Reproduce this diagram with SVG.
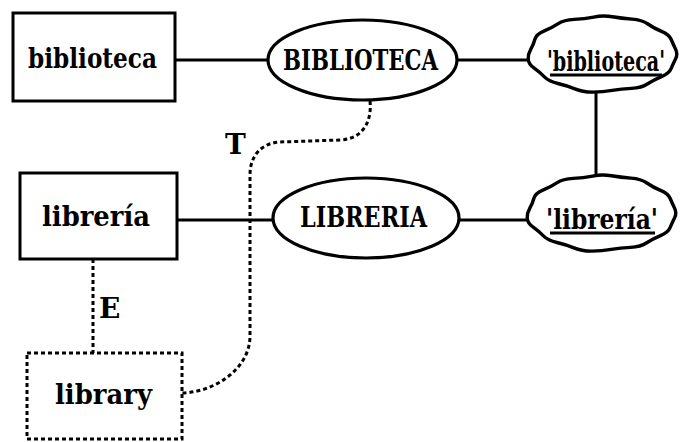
<svg xmlns="http://www.w3.org/2000/svg" width="680" height="442" viewBox="0 0 680 442">
<style>
.box{fill:#fff;stroke:#000;stroke-width:3}
.dbox{fill:#fff;stroke:#000;stroke-width:3;stroke-dasharray:4 3}
.ell{fill:#fff;stroke:#000;stroke-width:3.2}
.cloud{fill:#fff;stroke:#000;stroke-width:3.4;stroke-linejoin:round}
.ln{fill:none;stroke:#000;stroke-width:3}
.dl{fill:none;stroke:#000;stroke-width:3;stroke-dasharray:4 3}
.t{font-family:"DejaVu Serif","Liberation Serif",serif;font-weight:bold;font-size:28px;fill:#000}
.lbl{font-family:"DejaVu Serif","Liberation Serif",serif;font-weight:bold;font-size:28px;fill:#000}
.ul{stroke:#000;stroke-width:3}
</style>
<defs>
<path id="cloudShape" d="M675.6,49.2 Q678,54 675.6,58.8 Q673.3,63.5 671.2,68.4 Q669.2,73.4 661.5,76.6 Q653.9,79.8 647.7,83.8 Q641.6,87.9 631.5,88.4 Q621.5,88.9 612.2,90.4 Q603,92 592.9,92.1 Q582.8,92.2 574.9,88.9 Q567,85.6 557.9,83.5 Q548.9,81.4 544.4,76.9 Q540,72.4 534.2,68.2 Q528.4,64.1 528.2,59 Q528,54 530.7,49.3 Q533.5,44.6 534.8,39.5 Q536.1,34.4 543.8,31.1 Q551.6,27.9 557.8,23.8 Q564,19.8 574.2,19.4 Q584.5,19.1 593.7,17.1 Q603,15.2 612.4,16.8 Q621.8,18.4 631.9,19.1 Q642,19.8 647.9,24 Q653.9,28.2 661.5,31.4 Q669.2,34.6 671.2,39.5 Q673.3,44.5 675.6,49.2 Z"/>
</defs>

<g id="connectors">
  <line class="ln" x1="175" y1="60" x2="268" y2="60"/>
  <line class="ln" x1="457" y1="60" x2="529" y2="60"/>
  <line class="ln" x1="596" y1="91" x2="596" y2="175"/>
  <line class="ln" x1="177" y1="220" x2="273" y2="220"/>
  <line class="ln" x1="459" y1="220" x2="528" y2="220"/>
  <line class="dl" x1="93" y1="259" x2="93" y2="353"/>
  <path class="dl" d="M370,101 C372,120 364,139 340,140 L280,142 C262,143 250,155 250,175 L250,336 C250,368 216,392 182,393"/>
  <text class="lbl" x="225" y="154">T</text>
  <text class="lbl" x="99" y="318">E</text>
</g>

<g id="n-biblioteca">
  <rect class="box" x="13" y="13" width="162" height="88"/>
  <text class="t" x="28" y="68" textLength="129" lengthAdjust="spacingAndGlyphs">biblioteca</text>
</g>

<g id="n-BIBLIOTECA">
  <ellipse class="ell" cx="362.5" cy="60" rx="94.5" ry="40"/>
  <text class="t" x="283" y="70" textLength="155" lengthAdjust="spacingAndGlyphs">BIBLIOTECA</text>
</g>

<g id="n-biblioteca-concept">
  <use href="#cloudShape" class="cloud"/>
  <text class="t" transform="translate(547,71) scale(0.7,1)" x="0" y="0" textLength="168.6" lengthAdjust="spacingAndGlyphs">'biblioteca'</text>
  <line class="ul" x1="550" y1="75" x2="662" y2="75"/>
</g>

<g id="n-libreria">
  <rect class="box" x="20" y="173" width="157" height="86"/>
  <text class="t" x="42" y="226" textLength="108" lengthAdjust="spacingAndGlyphs">librería</text>
</g>

<g id="n-LIBRERIA">
  <ellipse class="ell" cx="366" cy="218" rx="93" ry="40"/>
  <text class="t" x="300" y="227" textLength="127" lengthAdjust="spacingAndGlyphs">LIBRERIA</text>
</g>

<g id="n-libreria-concept">
  <use href="#cloudShape" class="cloud" transform="translate(-1,159)"/>
  <text class="t" x="546" y="229" textLength="112" lengthAdjust="spacingAndGlyphs">'librería'</text>
  <line class="ul" x1="550" y1="233" x2="655" y2="233"/>
</g>

<g id="n-library">
  <rect class="dbox" x="27" y="353" width="155" height="86"/>
  <text class="t" x="55" y="404" textLength="97" lengthAdjust="spacingAndGlyphs">library</text>
</g>
</svg>
